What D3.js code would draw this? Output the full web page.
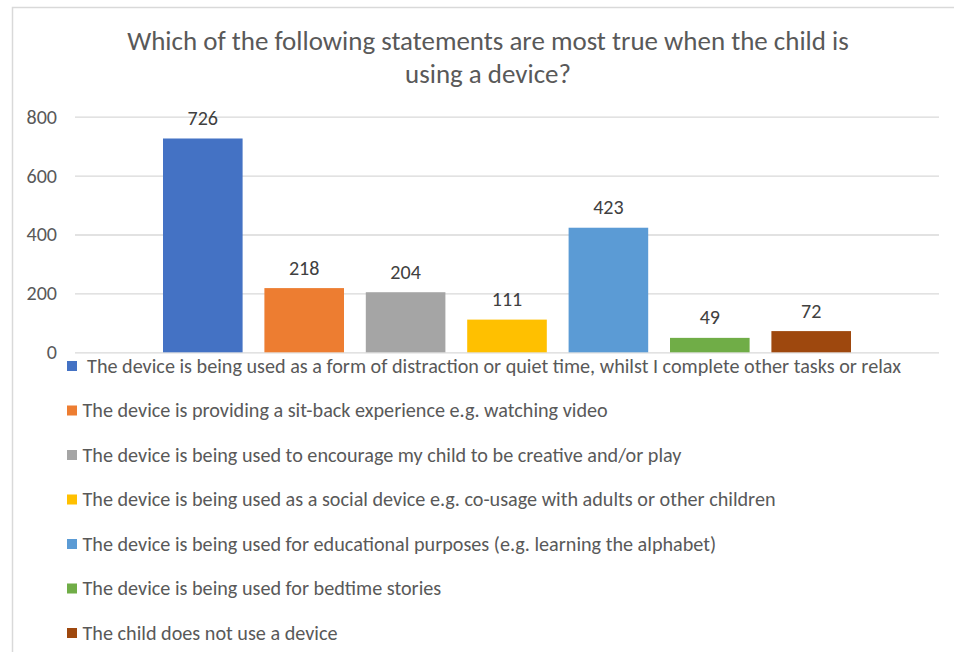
<!DOCTYPE html>
<html>
<head>
<meta charset="utf-8">
<script src="https://cdn.jsdelivr.net/npm/d3@7"></script>
<style>
  html, body { margin: 0; padding: 0; background: #fff; }
  svg text { font-family: Carlito, Calibri, Lato, sans-serif; }
</style>
</head>
<body>
<svg id="chart" width="954" height="652"></svg>
<script>
// Survey responses: one bar per statement
const titleLines = [
  "Which of the following statements are most true when the child is",
  "using a device?"
];
const statements = [
  " The device is being used as a form of distraction or quiet time, whilst I complete other tasks or relax",
  "The device is providing a sit-back experience e.g. watching video",
  "The device is being used to encourage my child to be creative and/or play",
  "The device is being used as a social device e.g. co-usage with adults or other children",
  "The device is being used for educational purposes (e.g. learning the alphabet)",
  "The device is being used for bedtime stories",
  "The child does not use a device"
];
const counts = [726, 218, 204, 111, 423, 49, 72];
const colors = ["#4472C4", "#ED7D31", "#A5A5A5", "#FFC000", "#5B9BD5", "#70AD47", "#9E480E"];
const yTicks = [0, 200, 400, 600, 800];

const svg = d3.select("#chart");
const textColor = "#595959";
const gridColor = "#d9d9d9";

// Pick a font size so that a given string renders at a target width
function fitSize(str, targetWidth) {
  const t = svg.append("text").attr("font-size", 100).style("white-space", "pre").text(str);
  const w = t.node().getComputedTextLength();
  t.remove();
  return 100 * targetWidth / w;
}

// Chart frame
svg.append("rect")
  .attr("x", 12.5).attr("y", 7.5)
  .attr("width", 960).attr("height", 660)
  .attr("fill", "#fff")
  .attr("stroke", gridColor).attr("stroke-width", 1.5);

// Title
const titleSize = fitSize(titleLines[0], 722);
svg.append("g").selectAll("text").data(titleLines).join("text")
  .attr("x", 488)
  .attr("y", (d, i) => 49.5 + i * 33.3)
  .attr("text-anchor", "middle")
  .attr("font-size", titleSize)
  .attr("fill", textColor)
  .text(d => d);

// Scales
const plotLeft = 75, plotRight = 939;
const y = d3.scaleLinear().domain([0, 800]).range([352.3, 116.7]);
const x = d3.scaleBand()
  .domain(statements)
  .range([163, 851])
  .paddingInner(0.215)
  .paddingOuter(0);

// Gridlines and value axis
const numSize = fitSize("800", 30.5);
const yAxis = svg.append("g")
  .attr("transform", `translate(${plotLeft},0)`)
  .call(d3.axisLeft(y)
    .tickValues(yTicks)
    .tickSize(-(plotRight - plotLeft))
    .tickPadding(18)
    .tickFormat(d3.format("d")));
yAxis.select(".domain").remove();
yAxis.selectAll(".tick line").attr("stroke", gridColor).attr("stroke-width", 1.3);
yAxis.selectAll(".tick text")
  .attr("font-size", numSize)
  .attr("fill", textColor)
  .attr("font-family", "Carlito, Calibri, Lato, sans-serif");

// Bars
svg.append("g").selectAll("rect").data(counts).join("rect")
  .attr("x", (d, i) => x(statements[i]))
  .attr("y", d => y(d))
  .attr("width", x.bandwidth())
  .attr("height", d => y(0) - y(d))
  .attr("fill", (d, i) => colors[i]);

// Value labels
svg.append("g").selectAll("text").data(counts).join("text")
  .attr("x", (d, i) => x(statements[i]) + x.bandwidth() / 2)
  .attr("y", d => y(d) - 13.5)
  .attr("text-anchor", "middle")
  .attr("font-size", numSize)
  .attr("fill", "#404040")
  .text(d => d);

// Legend
const legendSize = fitSize(statements[5], 359);
const legend = svg.append("g").selectAll("g").data(statements).join("g")
  .attr("transform", (d, i) => `translate(0,${366 + i * 44.5})`);
legend.append("rect")
  .attr("x", 67).attr("y", -5)
  .attr("width", 10).attr("height", 10)
  .attr("fill", (d, i) => colors[i]);
legend.append("text")
  .attr("x", 82.5)
  .attr("y", legendSize * 0.34)
  .attr("font-size", legendSize)
  .attr("fill", textColor)
  .style("white-space", "pre")
  .text(d => d);
</script>
</body>
</html>
